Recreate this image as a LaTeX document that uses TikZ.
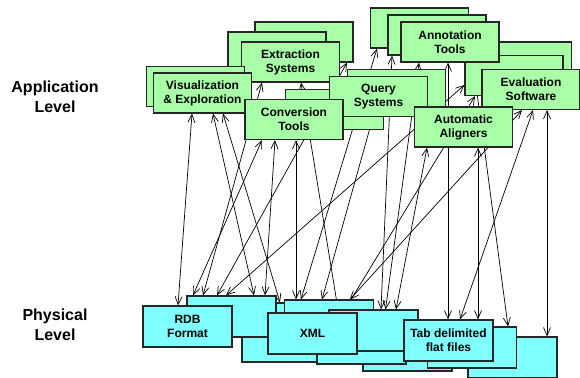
\documentclass[tikz,border=0pt]{standalone}
\usepackage{fontspec}
\setmainfont{Liberation Sans}
\usetikzlibrary{arrows.meta}
\usetikzlibrary{backgrounds}
\definecolor{appgreen}{RGB}{168,255,168}
\definecolor{physcyan}{RGB}{128,255,255}
\tikzset{
    appnode/.style = {rectangle, line width=1.2pt, draw=black!85, fill=appgreen, align=center, inner sep=0pt, minimum width=98pt, minimum height=40pt, font=\bfseries\fontsize{12}{14}\selectfont},
    physnode/.style = {rectangle, line width=1.2pt, draw=black!85, fill=physcyan, align=center, inner sep=0pt, minimum width=89pt, minimum height=41pt, font=\bfseries\fontsize{12}{14}\selectfont},
    levelnode/.style = {align=center, font=\bfseries\fontsize{16}{20}\selectfont},
    edgen/.style = {{Straight Barb[length=8pt,width=7pt]}-{Straight Barb[length=8pt,width=7pt]}, line width=0.7pt, black}
}

\begin{document}
\begin{tikzpicture}[x=1pt,y=-1pt]
\useasboundingbox (0,0) rectangle (580,377);

\node[levelnode] (applvl) at (55,97) {Application\\Level};
\node[levelnode] (physlvl) at (55,325) {Physical\\Level};

% application level, back to front
\node[appnode] (exb1) at (304,42) {};
\node[appnode] (exb2) at (277,52) {};
\node[appnode] (extr) at (290.5,62) {Extraction\\Systems};
\node[appnode] (visb) at (195.5,86.5) {};
\node[appnode] (vis) at (202.5,93) {Visualization\\\& Exploration};
\node[appnode] (qryb2) at (396.5,89.5) {};
\node[appnode] (qryb1) at (334.5,109.5) {};
\node[appnode] (qry) at (378.5,96.5) {Query\\Systems};
\node[appnode] (conv) at (294,119.5) {Conversion\\Tools};
\node[appnode] (evlb1) at (522.5,62) {};
\node[appnode] (evlb2) at (514,75.5) {};
\node[appnode] (evl) at (531,89.5) {Evaluation\\Software};
\node[appnode] (annb1) at (419.5,28) {};
\node[appnode] (annb2) at (437,35) {};
\node[appnode] (ann) at (450,42) {Annotation\\Tools};
\node[appnode] (algn) at (463.5,127) {Automatic\\Aligners};

% physical level, back to front
\node[physnode] (rdbb2) at (286.5,341.5) {};
\node[physnode] (xmlb0) at (320.5,323.5) {};
\node[physnode] (xmlb1) at (329,320.5) {};
\node[physnode] (xmlb3) at (407.5,350.5) {};
\node[physnode] (xmlb4) at (361.5,343.5) {};
\node[physnode] (xmlb2) at (373.5,330.5) {};
\node[physnode] (rdbb) at (231.5,316.5) {};
\node[physnode] (rdb) at (187.5,326.5) {RDB\\Format};
\node[physnode] (xml) at (312.5,333.5) {XML};
\node[physnode] (tabb2) at (512.5,357.5) {};
\node[physnode] (tabb1) at (472,347.5) {};
\node[physnode] (tab) at (448.5,340.5) {Tab delimited\\flat files};

\begin{scope}[on background layer]
\draw[edgen] ([xshift=-10.5pt]vis.south) -- ([xshift=-9.5pt]rdb.north);
\draw[edgen] ([xshift=10.5pt]vis.south) -- ([xshift=22.5pt]rdbb.north);
\draw[edgen] ([xshift=20.5pt]vis.south) -- ([xshift=-40.5pt]xmlb0.north);
\draw[edgen] ([xshift=-32pt]conv.south) -- ([xshift=-38.5pt]rdbb.north);
\draw[edgen] ([xshift=-19pt]conv.south) -- ([xshift=33.5pt]rdbb.north);
\draw[edgen] ([xshift=2pt]conv.south) -- ([xshift=-33pt]xmlb1.north);
\draw[edgen] ([xshift=10.5pt]extr.south) -- ([xshift=-35.5pt]xmlb2.north);
\draw[edgen] ([xshift=-28.5pt]extr.south) -- ([xshift=-28.5pt]rdbb.north);
\draw[edgen] ([xshift=43pt]exb1.south) -- ([xshift=-14.5pt]rdbb.north);
\draw[edgen] ([xshift=-5.5pt]qry.south) -- ([xshift=-7pt]xmlb1.north);
\draw[edgen] ([xshift=-42.5pt]annb1.south) -- ([xshift=-28pt]xmlb1.north);
\draw[edgen] ([xshift=-45pt]annb2.south) -- ([xshift=7.5pt]xmlb2.north);
\draw[edgen] ([xshift=-31pt]ann.south) -- ([xshift=12pt]xmlb2.north);
\draw[edgen] ([xshift=-36.5pt]algn.south) -- ([xshift=22.5pt]xmlb2.north);
\draw[edgen] ([xshift=-2pt]ann.south) -- ([xshift=-0.5pt]tab.north);
\draw[edgen] ([xshift=23pt]ann.south) -- ([xshift=36pt]tabb1.north);
\draw[edgen] ([yshift=-9.5pt]evlb2.west) -- ([xshift=-5.5pt]rdbb.north);
\draw[edgen] ([xshift=-39pt]evlb2.south) -- ([xshift=-28.5pt]xmlb2.north);
\draw[edgen] ([xshift=14.5pt]algn.south) -- ([xshift=29.5pt]tab.north);
\draw[edgen] ([xshift=-9pt]evl.south) -- ([xshift=21pt]xmlb1.north);
\draw[edgen] ([xshift=2pt]evl.south) -- ([xshift=11.5pt]tab.north);
\draw[edgen] ([xshift=16pt]evl.south) -- ([xshift=34.5pt]tabb2.north);
\end{scope}

\end{tikzpicture}
\end{document}
